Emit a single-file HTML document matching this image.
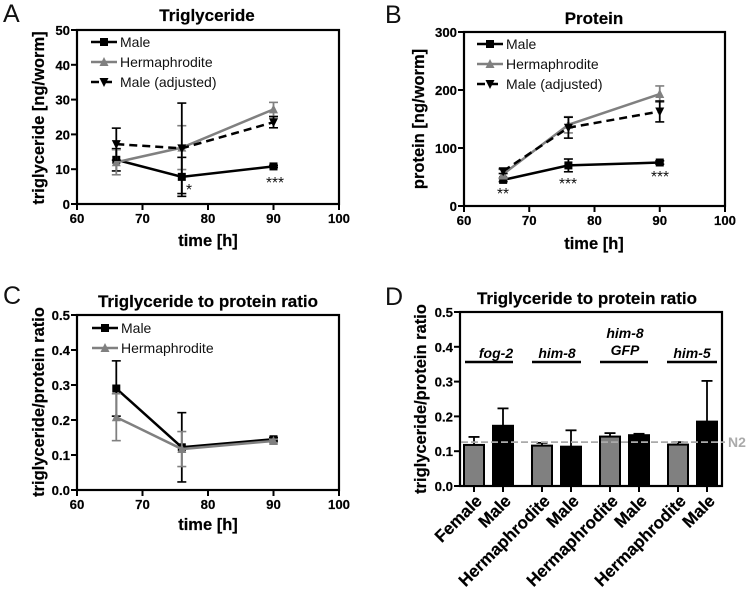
<!DOCTYPE html>
<html lang="en">
<head>
<meta charset="utf-8">
<title>Triglyceride and protein charts</title>
<style>
html,body{margin:0;padding:0;background:#fff;width:748px;height:594px;overflow:hidden}
svg{display:block;font-family:"Liberation Sans",sans-serif;filter:blur(0.3px)}
.tick{font-size:13.2px;font-weight:bold;fill:#000;stroke:#000;stroke-width:.2px}
.title{font-size:17px;font-weight:bold;text-anchor:middle;fill:#000;stroke:#000;stroke-width:.2px}
.axt{font-size:16.5px;font-weight:bold;text-anchor:middle;fill:#000;stroke:#000;stroke-width:.2px}
.letter{font-size:25px;fill:#111}
.leg{font-size:14px;fill:#111}
.gene{font-size:14px;font-weight:bold;font-style:italic;text-anchor:middle;fill:#000}
.star{font-size:15.5px;fill:#111;text-anchor:middle}
.cat{font-size:17px;font-weight:bold;text-anchor:end;fill:#000;stroke:#000;stroke-width:.2px}
</style>
</head>
<body>
<svg id="figure" width="748" height="594" viewBox="0 0 748 594" xmlns="http://www.w3.org/2000/svg">
  <text class="letter" x="3" y="22">A</text>
  <text class="letter" x="385" y="23">B</text>
  <text class="letter" x="3" y="304">C</text>
  <text class="letter" x="385" y="305">D</text>

  <text class="title" x="207" y="21">Triglyceride</text>
  <text class="title" x="594" y="24">Protein</text>
  <text class="title" x="208" y="307">Triglyceride to protein ratio</text>
  <text class="title" x="587" y="304">Triglyceride to protein ratio</text>

  <text class="axt" x="208" y="246">time [h]</text>
  <text class="axt" x="594" y="249">time [h]</text>
  <text class="axt" x="208" y="530">time [h]</text>

  <text class="axt" transform="translate(44,118) rotate(-90)">triglyceride [ng/worm]</text>
  <text class="axt" transform="translate(424,119) rotate(-90)">protein [ng/worm]</text>
  <text class="axt" transform="translate(44,402) rotate(-90)">triglyceride/protein ratio</text>
  <text class="axt" transform="translate(426,399) rotate(-90)">triglyceride/protein ratio</text>

  <text class="star" x="189" y="195">*</text>
  <text class="star" x="275" y="188">***</text>
  <text class="star" x="503" y="199">**</text>
  <text class="star" x="568" y="189">***</text>
  <text class="star" x="660" y="182">***</text>

  <text class="gene" x="496" y="358">fog-2</text>
  <text class="gene" x="557" y="358">him-8</text>
  <text class="gene" x="625" y="338">him-8</text>
  <text class="gene" x="625" y="355">GFP</text>
  <text class="gene" x="692" y="358">him-5</text>
  <g stroke="#000" stroke-width="2.4">
    <line x1="465" x2="513" y1="362" y2="362"/>
    <line x1="532" x2="581" y1="362" y2="362"/>
    <line x1="600" x2="648" y1="362" y2="362"/>
    <line x1="667" x2="717" y1="362" y2="362"/>
  </g>
  <text x="728" y="447" font-size="14" font-weight="bold" fill="#aaa">N2</text>
</svg>
<script>
// Shared x axis
const timeHours = [66, 76, 90];
const xTicks = [60, 70, 80, 90, 100];

// Panel A values
const aMale = [12.7, 7.8, 10.8];
const aMaleErr = [3.2, 5.6, 0.3];
const aHerm = [12, 16.2, 27.2];
const aHermErr = [3.6, 6.3, 2];
const aAdj = [17.2, 16, 23.5];
const aAdjErr = [4.6, 13, 1.6];
const aTicks = [0, 10, 20, 30, 40, 50];

// Panel B values
const bMale = [45, 70, 75];
const bMaleErr = [3, 11, 3];
const bHerm = [55, 140, 193];
const bHermErr = [8, 14, 14];
const bAdj = [60, 135, 163];
const bAdjErr = [4, 18, 18];
const bTicks = [0, 100, 200, 300];

// Panel C values
const cMale = [0.29, 0.122, 0.145];
const cMaleErr = [0.079, 0.099, 0.005];
const cHerm = [0.208, 0.117, 0.14];
const cHermErr = [0.067, 0.05, 0.005];
const ratioTicks = [0, 0.1, 0.2, 0.3, 0.4, 0.5];

// Panel D values
const dCategories = ['Female', 'Male', 'Hermaphrodite', 'Male', 'Hermaphrodite', 'Male', 'Hermaphrodite', 'Male'];
const dValues = [0.118, 0.173, 0.116, 0.113, 0.142, 0.146, 0.119, 0.185];
const dUpper = [0.141, 0.223, 0.124, 0.16, 0.152, 0.15, 0.126, 0.302];
const dFills = ['#808080', '#000', '#808080', '#000', '#808080', '#000', '#808080', '#000'];
const n2Reference = [0.126];

const svg = document.getElementById('figure');
const NS = 'http://www.w3.org/2000/svg';

function mk(tag, attrs, name, parent) {
  const el = document.createElementNS(NS, tag);
  for (const k in attrs) el.setAttribute(k, attrs[k]);
  
  
  (parent || svg).appendChild(el);
  return el;
}
function linear(d0, d1, r0, r1) {
  return v => r0 + (v - d0) / (d1 - d0) * (r1 - r0);
}
function marker(kind, x, y, color, name, parent) {
  if (kind === 'square') {
    mk('rect', {x: x - 4, y: y - 4, width: 8, height: 8, fill: color}, name, parent);
  } else if (kind === 'up') {
    mk('polygon', {points: [x - 4.5, y + 4, x + 4.5, y + 4, x, y - 5].join(' '), fill: color}, name, parent);
  } else {
    mk('polygon', {points: [x - 4.5, y - 4, x + 4.5, y - 4, x, y + 5].join(' '), fill: color}, name, parent);
  }
}
function drawFrame(p, ticks, digits, prefix) {
  const g = mk('g', {}, prefix + '-axes');
  mk('rect', {x: p.l, y: p.t, width: p.r - p.l, height: p.b - p.t, fill: 'none', stroke: '#000', 'stroke-width': 2.2}, prefix + '-plot-frame', g);
  ticks.forEach(t => {
    const y = p.y(t);
    mk('line', {x1: p.l - 6, x2: p.l, y1: y, y2: y, stroke: '#000', 'stroke-width': 2}, prefix + '-y-tick', g);
    const label = mk('text', {x: p.l - 7, y: y + 5, 'text-anchor': 'end', class: 'tick'}, prefix + '-y-tick-label', g);
    label.textContent = t.toFixed(digits);
  });
}
function drawXTicks(p, prefix) {
  const g = mk('g', {}, prefix + '-x-axis');
  xTicks.forEach(t => {
    const x = p.x(t);
    mk('line', {x1: x, x2: x, y1: p.b, y2: p.b + 6, stroke: '#000', 'stroke-width': 2}, prefix + '-x-tick', g);
    const label = mk('text', {x: x, y: p.b + 19, 'text-anchor': 'middle', class: 'tick'}, prefix + '-x-tick-label', g);
    label.textContent = t;
  });
}
function drawSeries(p, s, prefix) {
  const g = mk('g', {}, prefix + '-series-' + s.id);
  s.values.forEach((v, i) => {
    const x = p.x(timeHours[i]);
    const hi = p.y(v + s.err[i]);
    const lo = p.y(v - s.err[i]);
    mk('line', {x1: x, x2: x, y1: hi, y2: lo, stroke: s.color, 'stroke-width': 1.8}, prefix + '-error-bar', g);
    mk('line', {x1: x - 4.5, x2: x + 4.5, y1: hi, y2: hi, stroke: s.color, 'stroke-width': 1.6}, prefix + '-error-cap', g);
    mk('line', {x1: x - 4.5, x2: x + 4.5, y1: lo, y2: lo, stroke: s.color, 'stroke-width': 1.6}, prefix + '-error-cap', g);
  });
  const pts = s.values.map((v, i) => p.x(timeHours[i]) + ',' + p.y(v)).join(' ');
  const lineAttrs = {points: pts, fill: 'none', stroke: s.color, 'stroke-width': 2.5};
  if (s.dash) lineAttrs['stroke-dasharray'] = '8 5';
  mk('polyline', lineAttrs, prefix + '-line-' + s.id, g);
  s.values.forEach((v, i) => marker(s.marker, p.x(timeHours[i]), p.y(v), s.color, prefix + '-point-' + s.id, g));
}
function drawLegend(p, list, prefix) {
  const g = mk('g', {}, prefix + '-legend');
  list.forEach((s, i) => {
    const y = p.legY + i * 20;
    const attrs = {x1: p.legX, x2: p.legX + 26, y1: y, y2: y, stroke: s.color, 'stroke-width': 2.5};
    if (s.dash) attrs['stroke-dasharray'] = '8 5';
    mk('line', attrs, prefix + '-legend-line', g);
    marker(s.marker, p.legX + 13, y, s.color, prefix + '-legend-marker', g);
    const label = mk('text', {x: p.legX + 29, y: y + 5, class: 'leg'}, prefix + '-legend-entry', g);
    label.textContent = s.label;
  });
}
function panel(l, r, t, b, yMax, legX, legY) {
  return {l, r, t, b, legX, legY, x: linear(60, 100, l, r), y: linear(0, yMax, b, t)};
}
function series(id, label, values, err, color, mark, dash) {
  return {id, label, values, err, color, marker: mark, dash};
}
const GREY = '#808080';

// Panel A
const pa = panel(77, 339, 30, 204, 50, 91, 42);
const sa = [
  series('male', 'Male', aMale, aMaleErr, '#000', 'square', false),
  series('hermaphrodite', 'Hermaphrodite', aHerm, aHermErr, GREY, 'up', false),
  series('male-adjusted', 'Male (adjusted)', aAdj, aAdjErr, '#000', 'down', true)
];
drawFrame(pa, aTicks, 0, 'panel-a');
drawXTicks(pa, 'panel-a');
sa.forEach(s => drawSeries(pa, s, 'panel-a'));
drawLegend(pa, sa, 'panel-a');

// Panel B
const pb = panel(464, 725, 32, 206, 300, 477, 44);
const sb = [
  series('male', 'Male', bMale, bMaleErr, '#000', 'square', false),
  series('hermaphrodite', 'Hermaphrodite', bHerm, bHermErr, GREY, 'up', false),
  series('male-adjusted', 'Male (adjusted)', bAdj, bAdjErr, '#000', 'down', true)
];
drawFrame(pb, bTicks, 0, 'panel-b');
drawXTicks(pb, 'panel-b');
sb.forEach(s => drawSeries(pb, s, 'panel-b'));
drawLegend(pb, sb, 'panel-b');

// Panel C
const pc = panel(77, 339, 315, 490, 0.5, 92, 328);
const sc = [
  series('male', 'Male', cMale, cMaleErr, '#000', 'square', false),
  series('hermaphrodite', 'Hermaphrodite', cHerm, cHermErr, GREY, 'up', false)
];
drawFrame(pc, ratioTicks, 1, 'panel-c');
drawXTicks(pc, 'panel-c');
sc.forEach(s => drawSeries(pc, s, 'panel-c'));
drawLegend(pc, sc, 'panel-c');

// Panel D
const pd = {l: 460, r: 722, t: 312, b: 486, y: linear(0, 0.5, 486, 312)};
const barX = i => 474 + i * 29 + Math.floor(i / 2) * 10;
drawFrame(pd, ratioTicks, 1, 'panel-d');
const gd = mk('g', {}, 'panel-d-bars');
dValues.forEach((v, i) => {
  const x = barX(i);
  const top = pd.y(v);
  const up = pd.y(dUpper[i]);
  mk('line', {x1: x, x2: x, y1: up, y2: top, stroke: '#000', 'stroke-width': 1.8}, 'panel-d-error-bar', gd);
  mk('line', {x1: x - 5.5, x2: x + 5.5, y1: up, y2: up, stroke: '#000', 'stroke-width': 1.8}, 'panel-d-error-cap', gd);
  mk('rect', {x: x - 10, y: top, width: 20, height: pd.b - top, fill: dFills[i], stroke: '#000', 'stroke-width': 2}, 'panel-d-bar', gd);
  mk('line', {x1: x, x2: x, y1: pd.b, y2: pd.b + 6, stroke: '#000', 'stroke-width': 2}, 'panel-d-x-tick', gd);
  const label = mk('text', {class: 'cat', transform: 'translate(' + (x + 9) + ',' + (pd.b + 16) + ') rotate(-45)'}, 'panel-d-category-label', gd);
  label.textContent = dCategories[i];
});
mk('line', {x1: 461, x2: 725, y1: pd.y(n2Reference[0]), y2: pd.y(n2Reference[0]), stroke: '#aaa', 'stroke-width': 1.8, 'stroke-dasharray': '7 3'}, 'n2-reference-line');
</script>
</body>
</html>
